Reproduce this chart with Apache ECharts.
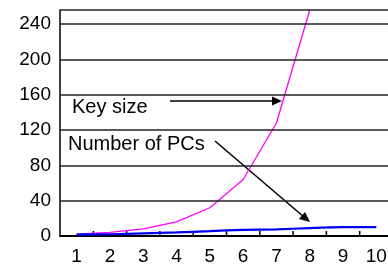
<!DOCTYPE html>
<html>
<head>
<meta charset="utf-8">
<script src="https://cdn.jsdelivr.net/npm/echarts@6/dist/echarts.min.js"></script>
<style>
html,body{margin:0;padding:0;background:#fff;}
#chart{width:388px;height:267px;}
</style>
</head>
<body>
<div id="chart"></div>
<script>
// x categories
var steps = ['1','2','3','4','5','6','7','8','9','10'];
// key size grows fast, cut at the top
var keySize = [2,4,8,16,32,64,128,256,null,null];
// number of PCs stays small
var numPCs = [1.5,2,3,4,5.5,7,7.5,9,10,10];
// y grid lines, top one is the frame at 256
var yGrid = [40,80,120,160,200,240,256];
// category boundaries for the little x ticks (0 = left edge)
var bounds = ['b0','b1','b2','b3','b4','b5','b6','b7','b8','b9','b10'];
var boundIdx = [1,2,3,4,5,6,7,8,9];

var FONT = 'Liberation Sans, Arial, sans-serif';

var myChart = echarts.init(document.getElementById('chart'));
var option = {
	animation:false,
	grid:{left:60,right:-5,top:10,bottom:31,outerBoundsMode:'none'},
	xAxis:[{
		type:'category',
		data:steps,
		boundaryGap:true,
		axisLine:{show:true,lineStyle:{color:'#000',width:2}},
		axisTick:{show:false},
		axisLabel:{color:'#000',fontSize:19,fontFamily:FONT,margin:11}
	},{
		type:'category',
		data:bounds,
		boundaryGap:false,
		position:'bottom',
		axisLine:{show:false},axisTick:{show:false},axisLabel:{show:false},
		splitLine:{show:false}
	}],
	yAxis:{
		type:'value',
		min:0,max:256,interval:40,
		axisLine:{show:true,lineStyle:{color:'#000',width:1.5}},
		axisTick:{show:false},
		splitLine:{show:false},
		axisLabel:{color:'#000',fontSize:19,fontFamily:FONT,margin:9,showMaxLabel:false}
	},
	series:[
		{name:'Key size',type:'line',data:keySize,symbol:'none',
			lineStyle:{color:'#ff00ff',width:1.3}},
		{name:'Number of PCs',type:'line',data:numPCs,symbol:'none',smooth:0.2,
			lineStyle:{color:'#0000ee',width:2.2}},
		{name:'grid',type:'line',data:[],silent:true,
			markLine:{silent:true,symbol:'none',label:{show:false},animation:false,
				lineStyle:{color:'#222',width:1.5,type:'solid'},
				data:yGrid.map(function(v){ return {yAxis:v}; })}},
		{name:'ticks',type:'custom',xAxisIndex:1,silent:true,
			data:boundIdx.map(function(i){ return [i,0]; }),
			renderItem:function(params,api){
				var p = api.coord([api.value(0),api.value(1)]);
				return {type:'line',shape:{x1:p[0],y1:p[1],x2:p[0],y2:p[1]-5},
					style:{stroke:'#000',lineWidth:1.5}};
			}
		}
	],
	graphic:[
		{type:'text',left:72,top:97,style:{text:'Key size',font:'20px '+FONT,fill:'#000'}},
		{type:'text',left:68,top:134,style:{text:'Number of PCs',font:'20px '+FONT,fill:'#000'}},
		{type:'line',shape:{x1:170,y1:101,x2:274,y2:101},style:{stroke:'#000',lineWidth:1.6}},
		{type:'polygon',shape:{points:[[282,101],[272,96.5],[272,105.5]]},style:{fill:'#000'}},
		{type:'line',shape:{x1:215,y1:141,x2:304,y2:217},style:{stroke:'#000',lineWidth:1.6}},
		{type:'polygon',shape:{points:[[310,222],[299,219],[305,212]]},style:{fill:'#000'}}
	]
};
myChart.setOption(option);
</script>
</body>
</html>
